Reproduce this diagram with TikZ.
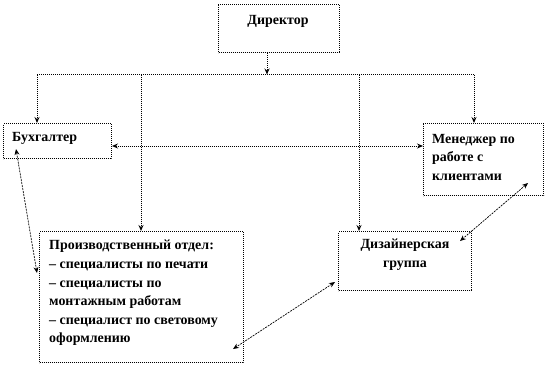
\documentclass[tikz,border=0pt]{standalone}
\usepackage{fontspec}
\setmainfont{Liberation Serif}
\usetikzlibrary{arrows.meta}
\begin{document}
\begin{tikzpicture}[x=1bp,y=-1bp,
 box/.style={draw, line width=1bp, dash pattern=on 1bp off 1bp, inner sep=0pt, anchor=north west},
 lbl/.style={font=\bfseries\fontsize{14}{18.7}\selectfont, inner sep=0pt},
 tip/.style={-{Stealth[length=6pt,width=5pt]}},
 both/.style={{Stealth[length=6pt,width=5pt]}-{Stealth[length=6pt,width=5pt]}},
 conn/.style={line width=1bp, dash pattern=on 1bp off 1bp},
 diag/.style={line width=0.7pt, dash pattern=on 2pt off 1pt}]
\useasboundingbox (0,0) rectangle (546,365);
% boxes
\node[box, minimum width=121bp, minimum height=48bp] (dir) at (218,4) {};
\node[box, minimum width=108bp, minimum height=35bp] (bukh) at (3,123) {};
\node[box, minimum width=120bp, minimum height=72bp] (man) at (423,123) {};
\node[box, minimum width=204bp, minimum height=131bp] (prod) at (39,231) {};
\node[box, minimum width=133bp, minimum height=59bp] (des) at (338,231) {};
% texts
\node[lbl] (dirt) at (278,21) {Директор};
\node[lbl, anchor=west] (bukht) at (12,138) {Бухгалтер};
\node[lbl, anchor=north west, align=left] (mant) at (432,134) {Менеджер по\\работе с\\клиентами};
\node[lbl, anchor=north west, align=left] (prodt) at (49,240) {Производственный отдел:\\– специалисты по печати\\– специалисты по\\монтажным работам\\– специалист по световому\\оформлению};
\node[lbl, align=center] (dest) at (405,255) {Дизайнерская\\группа};
% bus
\coordinate (bus) at (267,74.5);
\coordinate (busl) at (37,74.5);
\coordinate (busr) at (474,74.5);
\coordinate (d2) at (141,74.5);
\coordinate (d3) at (359,74.5);
\draw[conn, tip] (dir.south -| bus) -- (bus);
\draw[conn] (busl) -- (busr);
\draw[conn, tip] (busl) -- (busl |- bukh.north);
\draw[conn, tip] (d2) -- (d2 |- prod.north);
\draw[conn, tip] (d3) -- (d3 |- des.north);
\draw[conn, tip] (busr) -- (busr |- man.north);
% horizontal link
\coordinate (h) at (0,146);
\draw[conn, both] (bukh.east |- h) -- (man.west |- h);
% diagonals
\coordinate (a1) at (16,149);
\coordinate (a2) at (37,273);
\coordinate (b1) at (528,183);
\coordinate (b2) at (460,241);
\coordinate (c1) at (335,282);
\coordinate (c2) at (233,349);
\draw[diag, both] (a1) -- (a2);
\draw[diag, both] (b1) -- (b2);
\draw[diag, both] (c1) -- (c2);
\end{tikzpicture}
\end{document}
